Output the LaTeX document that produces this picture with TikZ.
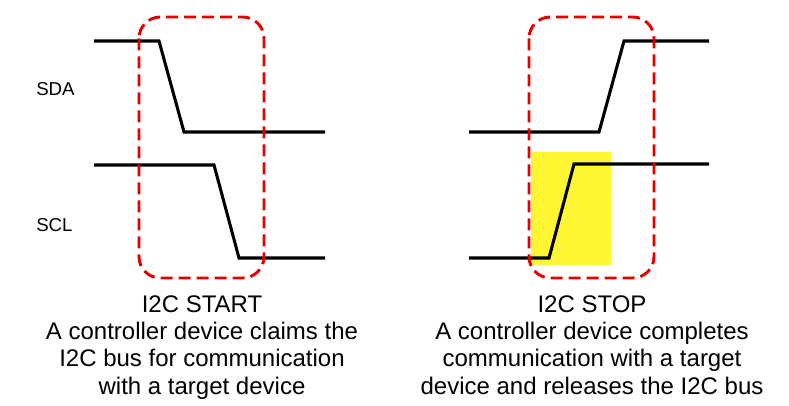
\documentclass[tikz,border=0pt]{standalone}
\usepackage{fontspec}
\setmainfont{Liberation Sans}
\begin{document}
\begin{tikzpicture}[x=0.75pt,y=-0.75pt,
  wave/.style={line width=2.3pt,line join=miter},
  frame/.style={draw=red!90!black,line width=2.2pt,dash pattern=on 9pt off 4.5pt,rounded corners=16pt},
  lbl/.style={font=\fontsize{14}{16}\selectfont,anchor=west,inner sep=0},
  captext/.style={font=\fontsize{18}{20.5}\selectfont,align=center,anchor=north,inner sep=0}]
\useasboundingbox (0,0) rectangle (789,406);
% yellow highlight
\fill[yellow!80!white] (531,152) rectangle (611,265);
% left waveforms
\coordinate (a1) at (94,41); \coordinate (a2) at (159,41); \coordinate (a3) at (184,132); \coordinate (a4) at (325,132);
\coordinate (b1) at (94,165); \coordinate (b2) at (214,165); \coordinate (b3) at (239,258); \coordinate (b4) at (325,258);
\draw[wave] (a1) -- (a2) -- (a3) -- (a4);
\draw[wave] (b1) -- (b2) -- (b3) -- (b4);
% right waveforms
\coordinate (c1) at (469,132); \coordinate (c2) at (599,132); \coordinate (c3) at (624,41); \coordinate (c4) at (709,41);
\coordinate (d1) at (469,258); \coordinate (d2) at (549,258); \coordinate (d3) at (574,164); \coordinate (d4) at (709,164);
\draw[wave] (c1) -- (c2) -- (c3) -- (c4);
\draw[wave] (d1) -- (d2) -- (d3) -- (d4);
% frames
\draw[frame] (139,17) rectangle (264,278);
\draw[frame] (529,17) rectangle (654,278);
% labels
\node[lbl] (sda) at (36,89) {SDA};
\node[lbl] (scl) at (36,225) {SCL};
\node[captext] (start) at (202,295) {I2C START\\A controller device claims the\\I2C bus for communication\\with a target device};
\node[captext] (stop) at (592,295) {I2C STOP\\A controller device completes\\communication with a target\\device and releases the I2C bus};
\end{tikzpicture}
\end{document}
